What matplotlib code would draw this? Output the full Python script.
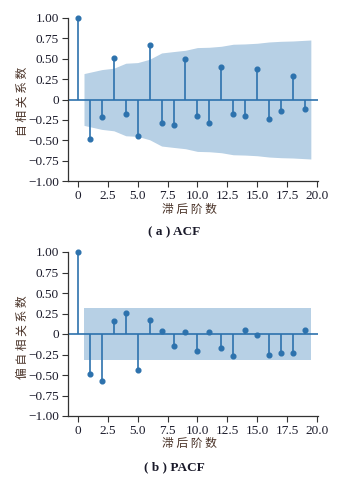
import numpy as np
import matplotlib
matplotlib.use("Agg")
import matplotlib.pyplot as plt

# ----------------------- data -----------------------
lags = list(range(20))
acf_vals = [1.0, -0.48, -0.216, 0.51, -0.18, -0.45, 0.665, -0.286, -0.314, 0.494,
            -0.208, -0.29, 0.396, -0.18, -0.208, 0.371, -0.245, -0.147, 0.29, -0.118]
acf_band = [0.318, 0.367, 0.384, 0.445, 0.453, 0.494, 0.571, 0.588, 0.604, 0.637,
            0.641, 0.653, 0.678, 0.682, 0.69, 0.706, 0.714, 0.718, 0.73]
pacf_vals = [1.0, -0.489, -0.574, 0.159, 0.26, -0.44, 0.175, 0.04, -0.143, 0.02,
             -0.204, 0.024, -0.167, -0.269, 0.045, -0.016, -0.26, -0.236, -0.236, 0.053]
pacf_band = [0.318] * 19
yticks = [-1.0, -0.75, -0.5, -0.25, 0, 0.25, 0.5, 0.75, 1.0]
ytick_labels = ["\u22121.00", "\u22120.75", "\u22120.50", "\u22120.25", "0",
                "0.25", "0.50", "0.75", "1.00"]
xticks = [0, 2.5, 5.0, 7.5, 10.0, 12.5, 15.0, 17.5, 20.0]
xtick_labels = ["0", "2.5", "5.0", "7.5", "10.0", "12.5", "15.0", "17.5", "20.0"]

STEM = "#2d72ad"
BAND = "#b7d0e5"
SPINE = "#333333"
TXT = "#1a1a2a"
CJK = ["Noto Sans CJK SC", "DejaVu Sans"]
SERIF = "Liberation Serif"

W, H = 345, 479
fig = plt.figure(figsize=(W / 100, H / 100), dpi=100)


def px_axes(left, right, top, bottom):
    return fig.add_axes([left / W, 1 - bottom / H, (right - left) / W, (bottom - top) / H])


def draw_panel(ax, vals, band):
    x_band = np.array(lags[1:], dtype=float)
    x_band[0] -= 0.5
    x_band[-1] += 0.5
    b = np.array(band)
    ax.fill_between(x_band, -b, b, color=BAND, lw=0)
    ax.axhline(0, color=STEM, lw=1.2)
    ax.vlines(lags, 0, vals, color=STEM, lw=1.2)
    ax.plot(lags, vals, "o", color=STEM, ms=3.4, clip_on=False, zorder=3)
    ax.set_xlim(-0.84, 20.1)
    ax.set_ylim(-1.0, 1.0)
    ax.set_yticks(yticks)
    ax.set_yticklabels(ytick_labels, fontfamily=SERIF, fontsize=9.5, color=TXT)
    ax.set_xticks(xticks)
    ax.set_xticklabels(xtick_labels, fontfamily=SERIF, fontsize=9.5, color=TXT)
    ax.tick_params(direction="out", length=4, width=0.8, color=SPINE, pad=2.5)
    for s in ["top", "right"]:
        ax.spines[s].set_visible(False)
    for s in ["left", "bottom"]:
        ax.spines[s].set_color(SPINE)
        ax.spines[s].set_linewidth(0.9)


ax1 = px_axes(68, 318, 18, 181)
draw_panel(ax1, acf_vals, acf_band)
ax2 = px_axes(68, 318, 252, 416)
draw_panel(ax2, pacf_vals, pacf_band)

label_color = "#4a3328"
fig.text(22 / W, 1 - 101 / H, "自 相 关 系 数", rotation=90, ha="center", va="center",
         family=CJK, fontsize=8.5, color=label_color)
fig.text(22 / W, 1 - 337 / H, "偏 自 相 关 系 数", rotation=90, ha="center", va="center",
         family=CJK, fontsize=8.5, color=label_color)
fig.text(189 / W, 1 - 209 / H, "滞 后 阶 数", ha="center", va="center",
         family=CJK, fontsize=8.5, color=label_color)
fig.text(189 / W, 1 - 443 / H, "滞 后 阶 数", ha="center", va="center",
         family=CJK, fontsize=8.5, color=label_color)
fig.text(174 / W, 1 - 232 / H, "( a ) ACF", ha="center", va="center",
         family=SERIF, fontsize=9.5, fontweight="bold", color=TXT)
fig.text(174 / W, 1 - 467 / H, "( b ) PACF", ha="center", va="center",
         family=SERIF, fontsize=9.5, fontweight="bold", color=TXT)

fig.savefig("out.png", dpi=100)
